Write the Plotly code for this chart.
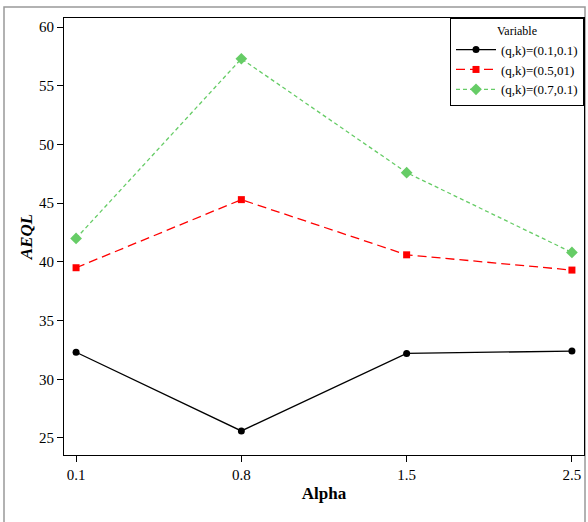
import plotly.graph_objects as go

alpha_labels = ["0.1", "0.8", "1.5", "2.5"]
series_names = ["(q,k)=(0.1,0.1)", "(q,k)=(0.5,01)", "(q,k)=(0.7,0.1)"]
aeql_a = [32.3, 25.6, 32.2, 32.4]
aeql_b = [39.5, 45.3, 40.6, 39.3]
aeql_c = [42.0, 57.3, 47.6, 40.8]
y_ticks = [25, 30, 35, 40, 45, 50, 55, 60]

FONT = "Liberation Serif"

fig = go.Figure()
styles = [
    dict(color="black", dash="solid", symbol="circle", size=7, width=1.3),
    dict(color="#ff0000", dash="9px,5px", symbol="square", size=7, width=1.3),
    dict(color="#66cc66", dash="4px,3px", symbol="diamond", size=9, width=1.3),
]
for name, vals, st in zip(series_names, [aeql_a, aeql_b, aeql_c], styles):
    fig.add_trace(go.Scatter(
        x=alpha_labels, y=vals, name=name, mode="lines+markers",
        line=dict(color=st["color"], dash=st["dash"], width=st["width"]),
        marker=dict(color=st["color"], symbol=st["symbol"], size=st["size"]),
    ))

fig.update_layout(
    width=588, height=522,
    margin=dict(l=64, r=4, t=18, b=67),
    paper_bgcolor="white", plot_bgcolor="white",
    font=dict(family=FONT, color="black", size=15),
    showlegend=True,
    legend=dict(
        x=1.0, y=1.0, xanchor="right", yanchor="top",
        bordercolor="black", borderwidth=1, bgcolor="white",
        font=dict(family=FONT, size=13),
        title=dict(text="Variable", side="top center", font=dict(family=FONT, size=12)),
        itemwidth=40, tracegroupgap=4,
    ),
    xaxis=dict(
        type="category", range=[-0.073, 3.073],
        showline=True, linecolor="black", linewidth=1, mirror=True,
        ticks="outside", ticklen=6, tickcolor="black",
        showgrid=False, zeroline=False,
        tickfont=dict(family=FONT, size=15),
        title=dict(text="<b>Alpha</b>", font=dict(family=FONT, size=17), standoff=5),
    ),
    yaxis=dict(
        range=[23.55, 60.77], tickvals=y_ticks,
        showline=True, linecolor="black", linewidth=1, mirror=True,
        ticks="outside", ticklen=6, tickcolor="black",
        showgrid=False, zeroline=False,
        tickfont=dict(family=FONT, size=15),
        title=dict(text="<b><i>AEQL</i></b>", font=dict(family=FONT, size=17), standoff=2),
    ),
)

# outer figure frame (as in the cropped reference)
fig.add_shape(type="rect", xref="paper", yref="paper",
              x0=(4 - 64) / 520, x1=(585 - 64) / 520,
              y0=(455 - 530) / 437, y1=(455 - 7) / 437,
              line=dict(color="#999999", width=1.5), layer="below")

fig.write_html(
    "out.html",
    config={"displayModeBar": False},
    post_script="document.body.style.margin='0';document.body.style.overflow='hidden';",
)
